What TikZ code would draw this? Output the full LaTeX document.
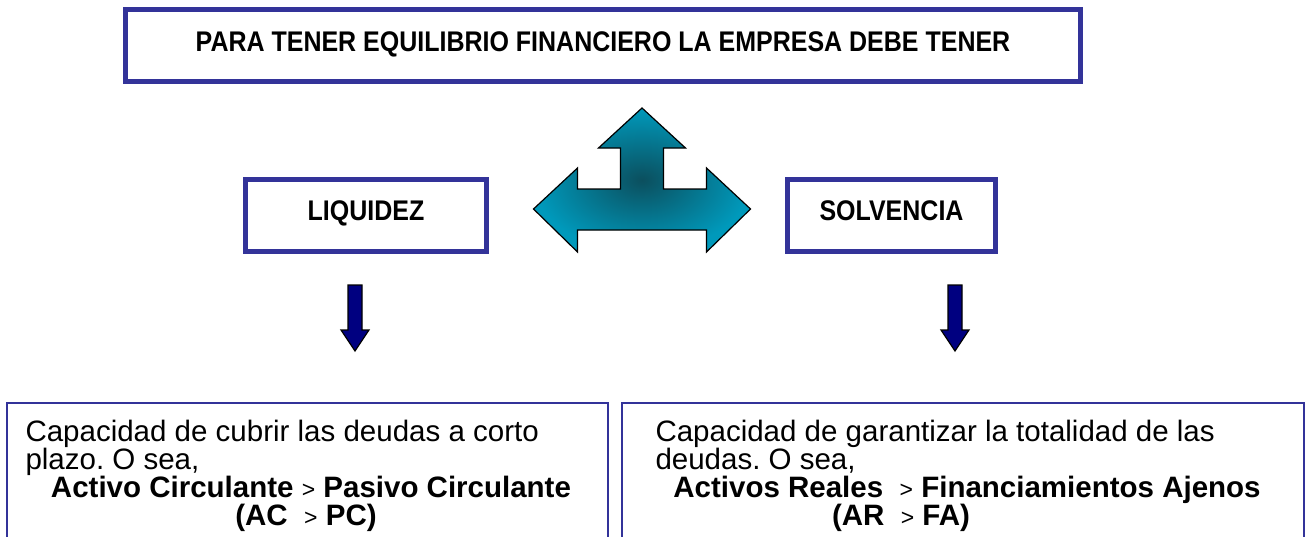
\documentclass[tikz,border=0pt]{standalone}
\usepackage{fontspec}
\setmainfont{Liberation Sans}
\newfontfamily\headfont[FakeStretch=0.88]{Liberation Sans}
\usetikzlibrary{positioning}
\frenchspacing

\definecolor{boxblue}{HTML}{333399}
\definecolor{tealblue}{HTML}{0099BB}
\definecolor{tealdark}{HTML}{0B4F5E}
\definecolor{arrownavy}{HTML}{000080}

\tikzset{
  headbox/.style={draw=boxblue,line width=5pt,minimum width=#1,minimum height=72pt,inner sep=0pt},
  textbox/.style={draw=boxblue,line width=1.6pt,inner sep=0pt,anchor=north west},
  downarrow/.style={draw=black,line width=1.2pt,fill=arrownavy},
  bigtext/.style={font=\headfont\fontsize{28.4}{32}\selectfont\bfseries,anchor=base},
  bodytext/.style={font=\fontsize{29.5}{33}\selectfont,anchor=base west},
  boldtext/.style={font=\fontsize{29.5}{33}\selectfont\bfseries,anchor=base}
}
\newcommand{\mayor}{{\mdseries\fontsize{23}{23}\selectfont >}}

\begin{document}
\begin{tikzpicture}[x=1pt,y=-1pt]
  \useasboundingbox[fill=white] (0,0) rectangle (1308,536);

  % cabecera
  \node[headbox=955pt] (top) at (603,45) {};
  \node[bigtext] (titulo) at (603,51) {PARA TENER EQUILIBRIO FINANCIERO LA EMPRESA DEBE TENER};

  \node[headbox=241pt] (liq) at (366,215) {};
  \node[bigtext] (liqtxt) at (366,220) {LIQUIDEZ};
  \node[headbox=208pt] (solv) at (891.5,215) {};
  \node[bigtext] (solvtxt) at (891.5,220) {SOLVENCIA};

  % flecha triple
  \shadedraw[inner color=tealdark,outer color=tealblue,draw=black,line width=1.2pt,shift={(642,0)}]
    (0,108) -- (43.5,148) -- (21.5,148) -- (21.5,189) -- (64.5,189) -- (64.5,168)
    -- (108.5,209) -- (64.5,252) -- (64.5,230) -- (-64.5,230) -- (-64.5,252)
    -- (-108.5,209) -- (-64.5,168) -- (-64.5,189) -- (-21.5,189) -- (-21.5,148)
    -- (-43.5,148) -- cycle;

  % flechas hacia abajo
  \foreach \xa in {355,955}
    \draw[downarrow,shift={(\xa,285)}] (-7,0) -- (7,0) -- (7,45) -- (14,45)
      -- (0,66) -- (-14,45) -- (-7,45) -- cycle;

  % cuadros inferiores
  \node[textbox,minimum width=601pt,minimum height=150pt] (liqbox) at (6,402) {};
  \node[textbox,minimum width=682pt,minimum height=150pt] (solvbox) at (621,402) {};

  \node[bodytext] (l1) at (22,441) {Capacidad de cubrir las deudas a corto};
  \node[bodytext] (l2) at (22,469) {plazo. O sea,};
  \node[boldtext] (l3) at (311,497) {Activo Circulante \mayor\ Pasivo Circulante};
  \node[boldtext] (l4) at (306,525) {(AC \ \mayor\ PC)};

  \node[bodytext] (s1) at (652,441) {Capacidad de garantizar la totalidad de las};
  \node[bodytext] (s2) at (652,469) {deudas. O sea,};
  \node[boldtext] (s3) at (967,497) {Activos Reales \ \mayor\ Financiamientos Ajenos};
  \node[boldtext] (s4) at (901,525) {(AR \ \mayor\ FA)};
\end{tikzpicture}
\end{document}
